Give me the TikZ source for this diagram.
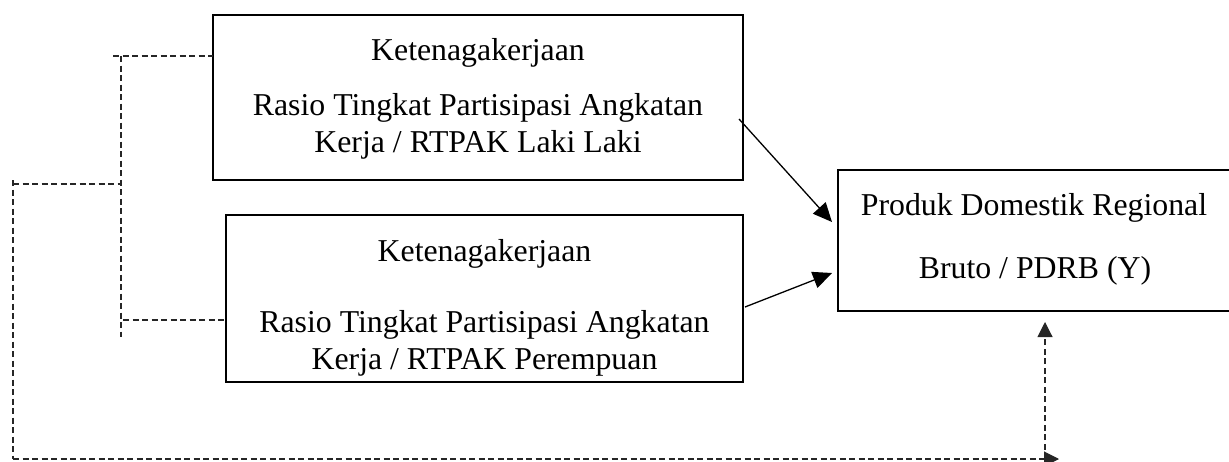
\documentclass[tikz,border=0pt]{standalone}
\usepackage{fontspec}
\setmainfont{Liberation Serif}
\usetikzlibrary{arrows.meta}
\begin{document}
\begin{tikzpicture}[x=1pt,y=-1pt,
  box/.style={draw,line width=2.2pt,rectangle,inner sep=0pt,outer sep=0pt},
  txt/.style={anchor=base,inner sep=0pt,font=\fontsize{31.8}{37}\selectfont},
  link/.style={line width=1.3pt,-{Triangle[length=19pt,width=17pt]}},
  dline/.style={line width=1.1pt,dash pattern=on 6pt off 3.5pt,color=black!85},
  darrow/.style={dline,-{Triangle[length=15pt,width=15pt]}}]
\useasboundingbox (0,0) rectangle (1229,461);
% boxes
\node[box,minimum width=530pt,minimum height=165pt] (b1) at (478,97.5) {};
\node[box,minimum width=517pt,minimum height=167pt] (b2) at (484.5,298.5) {};
\node[box,minimum width=394pt,minimum height=141pt] (b3) at (1035,240.5) {};
% texts
\node[txt] (t1a) at (478,60) {Ketenagakerjaan};
\node[txt] (t1b) at (478,115) {Rasio Tingkat Partisipasi Angkatan};
\node[txt] (t1c) at (478,152) {Kerja / RTPAK Laki Laki};
\node[txt] (t2a) at (484.5,261) {Ketenagakerjaan};
\node[txt] (t2b) at (484.5,332) {Rasio Tingkat Partisipasi Angkatan};
\node[txt] (t2c) at (484.5,369) {Kerja / RTPAK Perempuan};
\node[txt] (t3a) at (1034,215) {Produk Domestik Regional};
\node[txt] (t3b) at (1035,278) {Bruto / PDRB (Y)};
% solid arrows
\coordinate (s1) at (739,119);
\coordinate (e1) at (832,222);
\coordinate (s2) at (745,307);
\coordinate (e2) at (832,273);
\draw[link] (s1) -- (e1);
\draw[link] (s2) -- (e2);
% dashed bracket
\coordinate (d1) at (113,56);
\coordinate (d2) at (121,56);
\coordinate (d3) at (121,337);
\coordinate (d4) at (123,320);
\coordinate (d5) at (13,184);
\coordinate (d6) at (121,184);
\coordinate (d7) at (13,180);
\coordinate (d8) at (13,459);
\coordinate (d9) at (1059,459);
\coordinate (d10) at (1045,459);
\coordinate (d11) at (1045,322);
\draw[dline] (d1) -- (b1.west |- d1);
\draw[dline] (d2) -- (d3);
\draw[dline] (d4) -- (b2.west |- d4);
\draw[dline] (d5) -- (d6);
\draw[dline] (d7) -- (d8);
\draw[darrow] (d8) -- (d9);
\draw[darrow] (d10) -- (d11);
\end{tikzpicture}
\end{document}
